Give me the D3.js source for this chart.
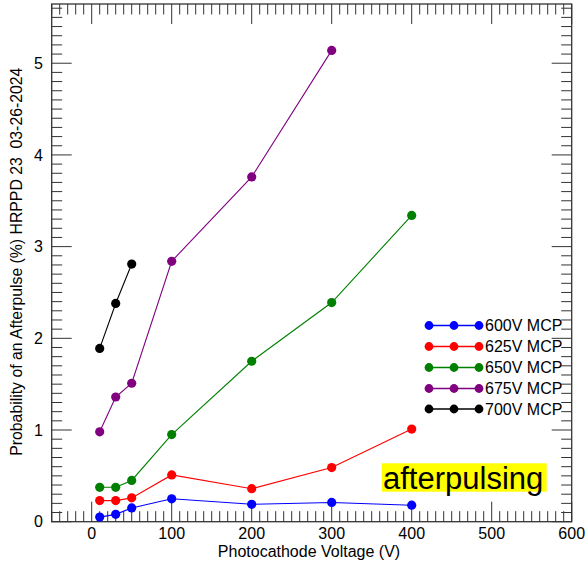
<!DOCTYPE html>
<html>
<head>
<meta charset="utf-8">
<script src="https://cdn.jsdelivr.net/npm/d3@7"></script>
<style>
  body { margin: 0; background: #fff; }
  text { font-family: "Liberation Sans", Arial, Helvetica, sans-serif; fill: #000; }
</style>
</head>
<body>
<div id="chart"></div>
<script>
// Data
const xTicks = [0, 100, 200, 300, 400, 500, 600];
const yTicks = [0, 1, 2, 3, 4, 5];
const seriesNames = ["600V MCP", "625V MCP", "650V MCP", "675V MCP", "700V MCP"];
const seriesColors = ["#0000ff", "#ff0000", "#008000", "#800080", "#000000"];
const voltages = [10, 30, 50, 100, 200, 300, 400];
const mcp600 = [0.05, 0.08, 0.15, 0.25, 0.19, 0.21, 0.18];
const mcp625 = [0.23, 0.23, 0.26, 0.51, 0.36, 0.59, 1.01];
const mcp650 = [0.375, 0.375, 0.45, 0.95, 1.75, 2.39, 3.34];
const mcp675 = [0.98, 1.36, 1.51, 2.84, 3.76, 5.14];
const mcp700 = [1.89, 2.38, 2.81];
const seriesValues = [mcp600, mcp625, mcp650, mcp675, mcp700];

const width = 587, height = 563;
const plot = { left: 51.7, right: 571.7, top: 4, bottom: 521.7 };

const svg = d3.select("#chart").append("svg")
    .attr("width", width)
    .attr("height", height);

const x = d3.scaleLinear().domain([-50, 600]).range([plot.left, plot.right]);
const y = d3.scaleLinear().domain([0, 5.646]).range([plot.bottom, plot.top]);

// Frame
const axisColor = "#333";
svg.append("rect")
    .attr("x", plot.left).attr("y", plot.top)
    .attr("width", plot.right - plot.left)
    .attr("height", plot.bottom - plot.top)
    .attr("fill", "none").attr("stroke", axisColor).attr("stroke-width", 1.3);

// Ticks (drawn inward on all four sides, IDL style)
const ticks = svg.append("g").attr("stroke", axisColor).attr("stroke-width", 1);
const xMinor = d3.range(-50, 601, 10);
const yMinor = d3.range(0, 5.65, 0.1);
xMinor.forEach(v => {
    const major = Math.abs(v % 100) < 1e-6;
    const len = major ? 20 : 10.5;
    ticks.append("line").attr("x1", x(v)).attr("x2", x(v)).attr("y1", plot.bottom).attr("y2", plot.bottom - len);
    ticks.append("line").attr("x1", x(v)).attr("x2", x(v)).attr("y1", plot.top).attr("y2", plot.top + len);
});
yMinor.forEach(v => {
    const major = Math.abs(v - Math.round(v)) < 1e-6;
    const len = major ? 20 : 10.5;
    ticks.append("line").attr("y1", y(v)).attr("y2", y(v)).attr("x1", plot.left).attr("x2", plot.left + len);
    ticks.append("line").attr("y1", y(v)).attr("y2", y(v)).attr("x1", plot.right).attr("x2", plot.right - len);
});

// Tick labels
svg.append("g").selectAll("text").data(xTicks).enter().append("text")
    .attr("x", d => x(d))
    .attr("y", 539)
    .attr("text-anchor", "middle")
    .style("font-size", "16px")
    .text(d => d);

svg.append("g").selectAll("text").data(yTicks).enter().append("text")
    .attr("x", 43)
    .attr("y", d => y(d))
    .attr("dy", "0.36em")
    .attr("text-anchor", "end")
    .style("font-size", "16px")
    .text(d => d);

// Axis titles
svg.append("text")
    .attr("x", 309)
    .attr("y", 557)
    .attr("text-anchor", "middle")
    .style("font-size", "16px")
    .text("Photocathode Voltage (V)");

svg.append("text")
    .attr("transform", "translate(21.5,261.7) rotate(-90)")
    .attr("text-anchor", "middle")
    .style("font-size", "15.8px")
    .style("white-space", "pre")
    .attr("xml:space", "preserve")
    .text("Probability of an Afterpulse (%) HRPPD 23  03-26-2024");

// Series
const line = d3.line().x(d => x(d[0])).y(d => y(d[1]));
seriesValues.forEach((vals, i) => {
    const pts = vals.map((v, j) => [voltages[j], v]);
    const g = svg.append("g");
    g.append("path")
        .attr("d", line(pts))
        .attr("fill", "none")
        .attr("stroke", seriesColors[i])
        .attr("stroke-width", 1.1);
    g.selectAll("circle").data(pts).enter().append("circle")
        .attr("cx", d => x(d[0]))
        .attr("cy", d => y(d[1]))
        .attr("r", 4.6)
        .attr("fill", seriesColors[i]);
});

// Legend
const legendRows = [325.5, 346.5, 367.5, 388.5, 409];
const legendX = [429, 454, 479];
seriesNames.forEach((name, i) => {
    const g = svg.append("g");
    g.append("line")
        .attr("x1", legendX[0]).attr("x2", legendX[2])
        .attr("y1", legendRows[i]).attr("y2", legendRows[i])
        .attr("stroke", seriesColors[i]).attr("stroke-width", 1.3);
    legendX.forEach(lx => {
        g.append("circle").attr("cx", lx).attr("cy", legendRows[i]).attr("r", 4.4).attr("fill", seriesColors[i]);
    });
    g.append("text")
        .attr("x", 485)
        .attr("y", legendRows[i])
        .attr("dy", "0.36em")
        .style("font-size", "16px")
        .text(name);
});

// Annotation
svg.append("rect")
    .attr("x", 381.7).attr("y", 463.3)
    .attr("width", 165).attr("height", 28.4)
    .attr("fill", "#ffff00");
svg.append("text")
    .attr("x", 383)
    .attr("y", 489)
    .style("font-size", "31px")
    .text("afterpulsing");
</script>
</body>
</html>
